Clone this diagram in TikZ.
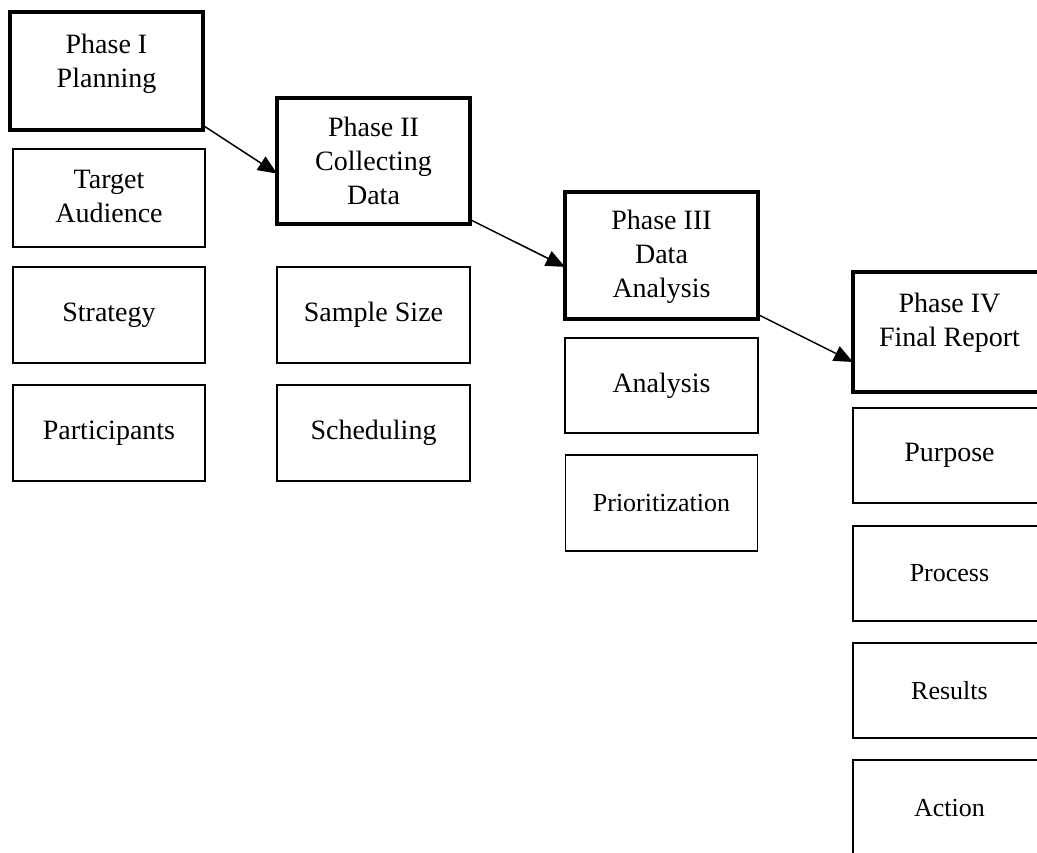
\documentclass[tikz,border=0pt]{standalone}
\usepackage{fontspec}
\setmainfont{Liberation Serif}
\usetikzlibrary{arrows.meta,calc}
\newcommand{\bigtxt}{\fontsize{28}{34}\selectfont}
\newcommand{\smalltxt}{\fontsize{26}{31}\selectfont}
\newcommand{\lines}[2][0]{\raisebox{#1pt}[0pt][0pt]{\begin{tabular}{@{}c@{}}#2\end{tabular}}}
\tikzset{
  phasebox/.style={draw, line width=4pt, minimum width=193pt, inner sep=0pt, outer sep=0pt, font=\bigtxt},
  itembox/.style={draw, line width=1.6pt, minimum width=192pt, minimum height=96pt, inner sep=0pt, outer sep=0pt, font=\bigtxt},
  itemboxt/.style={itembox, font=\smalltxt},
  flow/.style={line width=1.5pt, -{Triangle[length=19pt,width=16pt]}}
}
\begin{document}
\begin{tikzpicture}[x=1pt,y=-1pt]
\useasboundingbox (0,0) rectangle (1037,853);
\clip (0,0) rectangle (1037,853);
% column 1
\node[phasebox, minimum height=118pt] (p1) at (106.5,71) {\lines[1]{Phase I\\Planning}};
\node[itembox, minimum height=98pt] (target) at (109,198) {\lines[-7]{Target\\Audience}};
\node[itembox] (strategy) at (109,315) {Strategy};
\node[itembox] (participants) at (109,433) {Participants};
% column 2
\node[phasebox, minimum height=126pt] (p2) at (373.5,161) {\lines[-9]{Phase II\\Collecting\\Data}};
\node[itembox, minimum width=193pt] (sample) at (373.5,315) {Sample Size};
\node[itembox, minimum width=193pt] (scheduling) at (373.5,433) {Scheduling};
% column 3
\node[phasebox, minimum height=127pt] (p3) at (661.5,255.5) {\lines[-7]{Phase III\\Data\\Analysis}};
\node[itembox, minimum width=193pt, minimum height=95pt] (analysis) at (661.5,385.5) {Analysis};
\node[itemboxt] (prior) at (661.5,503) {Prioritization};
% column 4
\node[phasebox, minimum height=120pt] (p4) at (949.5,332) {\lines[3]{Phase IV\\Final Report}};
\node[itemboxt, minimum width=193pt, minimum height=95pt] (purpose) at (949.5,455.5) {\bigtxt Purpose};
\node[itemboxt, minimum width=193pt, minimum height=95pt] (process) at (949.5,573.5) {Process};
\node[itemboxt, minimum width=193pt, minimum height=95pt] (results) at (949.5,690.5) {Results};
\node[itemboxt, minimum width=193pt, minimum height=96pt] (action) at (949.5,808) {Action};
% connectors
\draw[flow] ($(p1.south east)+(1,-4)$) -- ($(p2.north west)!0.6!(p2.south west)$);
\draw[flow] ($(p2.south east)+(1,-4)$) -- ($(p3.north west)!0.59!(p3.south west)$);
\draw[flow] ($(p3.south east)+(1,-4)$) -- ($(p4.north west)!0.75!(p4.south west)$);
\end{tikzpicture}
\end{document}
